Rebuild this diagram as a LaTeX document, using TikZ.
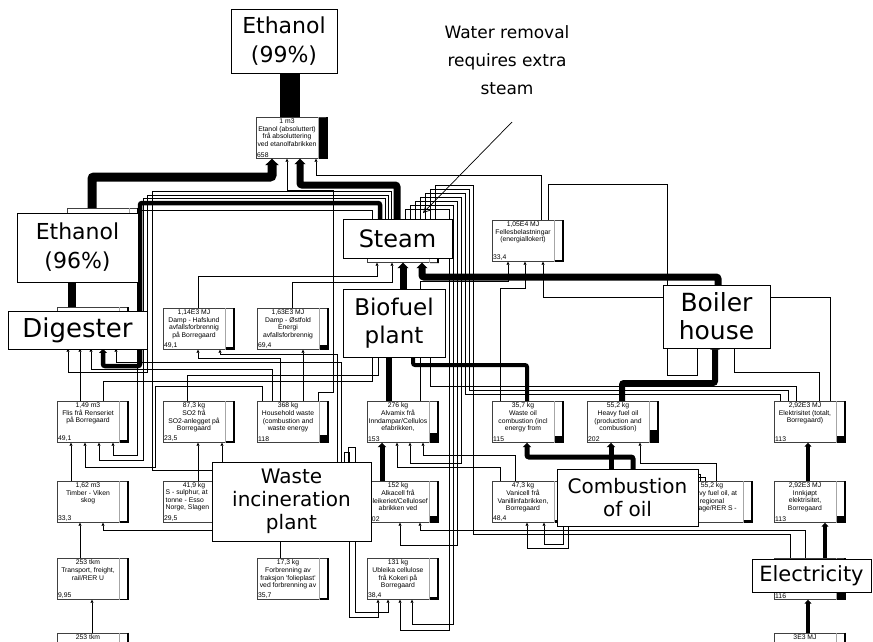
\documentclass[tikz,border=0pt]{standalone}
\usepackage{fontspec}
\setmainfont{DejaVu Sans}
\newfontfamily\boxfont{Liberation Sans}
\usetikzlibrary{calc,arrows.meta}
\newcommand\procbox[6]{%
  \node[pbox] (#1) at (#2,#3) {};
  \draw[black!35, line width=0.5pt] ($(#1.north east)+(-9,0)$) -- ($(#1.south east)+(-9,0)$);
  \fill ($(#1.south east)+(-9,0)$) rectangle ++(9,-#6);
  \draw[line width=1.4pt] ($(#1.north east)+(-0.7,0)$) -- ($(#1.south east)+(-0.7,0)$);
  \node[ptext] (#1-t) at ($(#1.north west)+(31,1.6)$) {#4};
  \node[pval] (#1-v) at (#1.south west) {#5};
}
\begin{document}
\begin{tikzpicture}[x=1pt,y=-1pt,
  pbox/.style={draw=black!75, line width=0.7pt, fill=white, anchor=north west,
    minimum width=71pt, minimum height=41pt, inner sep=0pt},
  ptext/.style={anchor=north, font=\boxfont\fontsize{6.8}{7.7}\selectfont, align=center, inner sep=0pt},
  pval/.style={anchor=south west, font=\boxfont\fontsize{6.8}{7.7}\selectfont, inner sep=1pt},
  big/.style={draw=black, line width=1pt, fill=white, align=center, inner sep=0pt},
  thk/.style={line width=#1, rounded corners=2pt, -{Triangle[length=2pt 0.5,width=2pt 1.25]}},
  tl/.style={line width=0.75pt, -{Triangle[length=3pt,width=3pt]}},
  tn/.style={line width=0.75pt},
]
\useasboundingbox (0,0) rectangle (873,641);
\fill[white] (0,0) rectangle (873,641);
\clip (0,0) rectangle (873,641);

% ---------- process boxes ----------
\procbox{A}{256}{117}{1 m3\\Etanol (absoluttert)\\frå absoluttering\\ved etanolfabrikken}{658}{41}
\procbox{E96}{67}{208}{}{}{0}
\procbox{St}{367}{221}{}{}{0}
\procbox{B}{492}{220}{1,05E4 MJ\\Fellesbelastningar\\(energiallokert)}{33,4}{2.1}
\procbox{Dg}{57}{307}{}{}{0}
\procbox{C}{163}{308}{1,14E3 MJ\\Damp - Hafslund\\avfallsforbrennig\\på Borregaard}{49,1}{3.1}
\procbox{D}{257}{308}{1,63E3 MJ\\Damp - Østfold\\Energi\\avfallsforbrennig}{69,4}{4.3}
\procbox{Bf}{367}{308}{}{}{0}
\procbox{Bh}{692}{303}{}{}{0}
\procbox{E}{57}{401}{1,49 m3\\Flis frå Renseriet\\på Borregaard}{49,1}{3.1}
\procbox{F}{163}{401}{87,3 kg\\SO2 frå\\SO2-anlegget på\\Borregaard}{23,5}{1.5}
\procbox{G}{257}{401}{368 kg\\Household waste\\(combustion and\\waste energy}{118}{7.4}
\procbox{H}{367}{401}{276 kg\\Alvamix frå\\Inndampar/Cellulos\\efabrikken,}{153}{9.5}
\procbox{I}{492}{401}{35,7 kg\\Waste oil\\combustion (incl\\energy from}{115}{7.2}
\procbox{J}{587}{401}{55,2 kg\\Heavy fuel oil\\(production and\\combustion)}{202}{12.6}
\procbox{K}{774}{401}{2,92E3 MJ\\Elektrisitet (totalt,\\Borregaard)}{113}{7}
\procbox{L}{57}{481}{1,62 m3\\Timber - Viken\\skog}{33,3}{2.1}
\procbox{M}{163}{481}{41,9 kg}{29,5}{1.8}
\node[anchor=north west, font=\boxfont\fontsize{6.8}{7.7}\selectfont, align=left, inner sep=0pt] (M-t2) at (165.5,489.3) {S - sulphur, at\\tonne - Esso\\Norge, Slagen};
\procbox{Wi}{280}{481}{}{}{0}
\procbox{N}{367}{481}{152 kg\\Alkacell frå\\Bleikeriet/Cellulosef\\abrikken ved}{102}{6.4}
\procbox{O}{492}{481}{47,3 kg\\Vanicell frå\\Vanillinfabrikken,\\Borregaard}{48,4}{3}
\procbox{Co}{587}{481}{}{}{0}
\procbox{P}{681}{481}{55,2 kg\\Heavy fuel oil, at\\regional\\storage/RER S -}{}{2.5}
\procbox{Q}{774}{481}{2,92E3 MJ\\Innkjøpt\\elektrisitet,\\Borregaard}{113}{7}
\procbox{R}{57}{558}{253 tkm\\Transport, freight,\\rail/RER U}{9,95}{0.6}
\procbox{S}{257}{558}{17,3 kg\\Forbrenning av\\fraksjon 'folieplast'\\ved forbrenning av}{35,7}{2.2}
\procbox{T}{367}{558}{131 kg\\Ubleika cellulose\\frå Kokeri på\\Borregaard}{38,4}{2.4}
\procbox{U}{774}{558}{}{116}{7.2}
\procbox{V}{57}{632.5}{253 tkm}{}{0}
\procbox{W}{774}{632.5}{3E3 MJ}{}{0}

% ---------- thick connectors ----------
\draw[line width=20pt] (A.north -| 290,0) -- (290,73);
\draw[thk=9pt] (E96.north -| 92,0) |- (272,177) -- (A.south -| 272,0);
\draw[thk=8pt] (Dg.north -| 72,0) -- (E96.south -| 72,0);
\draw[thk=7pt] (St.north -| 397,0) |- (300,185) -- (A.south -| 300,0);
\draw[thk=4.5pt] (St.north -| 380,0) |- (140,203) |- (103,366) -- (Dg.south -| 103,0);
\draw[thk=7pt] (Bf.north -| 403,0) -- (St.south -| 403,0);
\draw[thk=7pt] (Bh.north -| 718,0) |- (422,277) -- (St.south -| 422,0);
\draw[thk=6pt] (J.north -| 622,0) |- (715,383) -- (Bh.south -| 715,0);
\draw[thk=6pt] (H.north -| 389,0) -- (Bf.south -| 389,0);
\draw[thk=4pt] (I.north -| 527,0) |- (413,365) -- (Bf.south -| 413,0);
\draw[thk=4pt] (Q.north -| 808,0) -- (K.south -| 808,0);
\draw[thk=4pt] (U.north -| 825,0) -- (Q.south -| 825,0);
\draw[thk=4pt] (W.north -| 808,0) -- (U.south -| 808,0);
\draw[thk=5pt] (Co.north -| 611,0) -- (J.south -| 611,0);
\draw[thk=5pt] (Co.north -| 633,0) |- (527,457) -- (I.south -| 527,0);
\draw[thk=5pt] (N.north -| 382,0) -- (H.south -| 382,0);

% ---------- thin connectors ----------
\draw[tl] (B.north -| 541,0) |- (316,175) -- (A.south -| 316,0);
\draw[tl] (G.north -| 318,0) |- (333,392) |- (287,190) -- (A.south -| 287,0);
\draw[tl] (E.north -| 80,0) -- (Dg.south -| 80,0);
\draw[tl] (G.north -| 272,0) |- (91,369) -- (Dg.south -| 91,0);
\draw[tl] (G.north -| 262,0) |- (155,386) |- (85,467) -- (E.south -| 85,0);
\draw[tl] (G.north -| 280,0) |- (198,358) -- (C.south -| 198,0);
\draw[tl] (G.north -| 303,0) -- (D.south -| 303,0);
\draw[tl] (C.north -| 198,0) |- (377,276) -- (St.south -| 377,0);
\draw[tl] (D.north -| 292,0) |- (392,282) -- (St.south -| 392,0);
\draw[tl] (Wi.north -| 341,0) |- (116,362) -- (Dg.south -| 116,0);
\draw[tl] (Wi.north -| 337,0) |- (220,354) -- (C.south -| 220,0);
\draw[tl] (St.north -| 372,0) |- (137,210) |- (113,455) -- (E.south -| 113,0);
\draw[tl] (St.north -| 385,0) |- (143,198) |- (99,460) -- (E.south -| 99,0);
\draw[tl] (St.north -| 388,0) |- (147,195) |- (68,372) -- (Dg.south -| 68,0);
\draw[tl] (St.north -| 391,0) |- (152,191) |- (222,470) -- (F.south -| 222,0);
\draw[tl] (F.north -| 187,0) |- (378,375) -- (Bf.south -| 378,0);
\draw[tl] (E.north -| 103,0) |- (372,381) -- (Bf.south -| 372,0);
\draw[tl] (M.north -| 198,0) -- (F.south -| 198,0);
\draw[tl] (L.north -| 71,0) -- (E.south -| 71,0);
\draw[tl] (R.north -| 80,0) -- (L.south -| 80,0);
\draw[tl] (V.north -| 92,0) -- (R.south -| 92,0);
\draw[tl] (S.north -| 280,0) |- (103,530) -- (L.south -| 103,0);
\draw[tl] (St.north -| 405,0) |- (449,209) |- (400,630) -- (T.south -| 400,0);
\draw[tl] (St.north -| 410,0) |- (453,205) |- (412,624) -- (T.south -| 412,0);
\draw[tl] (St.north -| 415,0) |- (457,201) |- (400,545) -- (N.south -| 400,0);
\draw[tl] (St.north -| 420,0) |- (461,197) |- (410,463) -- (H.south -| 410,0);
\draw[tn] (K.north -| 780,0) |- (465,394) |- (425,193) -- (St.north -| 425,0);
\draw[tn] (K.north -| 788,0) |- (469,390) |- (430,189) -- (St.north -| 430,0);
\draw[tn] (U.north -| 790,0) |- (473,534) |- (435,185) -- (St.north -| 435,0);
\draw[tl] (U.north -| 805,0) |- (420,530) -- (N.south -| 420,0);
\draw[tl] (K.north -| 830,0) |- (543,297) -- (B.south -| 543,0);
\draw[tl] (K.north -| 819,0) |- (734,372) -- (Bh.south -| 734,0);
\draw[tl] (B.north -| 548,0) |- (667,184) |- (697,375) -- (Bh.south -| 697,0);
\draw[tl] (H.north -| 420,0) |- (508,281) -- (B.south -| 508,0);
\draw[tl] (I.north -| 500,0) |- (525,288) -- (B.south -| 525,0);
\draw[tl] (K.north -| 796,0) |- (430,386) -- (Bf.south -| 430,0);
\draw[tl] (P.north -| 716,0) |- (640,463) -- (J.south -| 640,0);
\draw[tl] (P.north -| 700,0) |- (568,474) |- (527,548) -- (O.south -| 527,0);
\draw[tl] (P.north -| 705,0) |- (563,477) |- (544,544) -- (O.south -| 544,0);
\draw[tl] (O.north -| 500,0) |- (397,467) -- (H.south -| 397,0);
\draw[tl] (O.north -| 515,0) |- (423,455) -- (H.south -| 423,0);
\draw[tl] (Wi.north -| 344,0) |- (349,452) |- (378,617) -- (T.south -| 378,0);
\draw[tl] (Wi.north -| 348,0) |- (355,447) |- (388,612) -- (T.south -| 388,0);

% ---------- big labels ----------
\node[big, minimum width=106pt, minimum height=64pt, font=\fontsize{22}{29}\selectfont] (L99) at (284,41) {Ethanol\\(99\%)};
\node[big, minimum width=121pt, minimum height=69pt, font=\fontsize{22}{29}\selectfont] (L96) at (77.5,247.5) {Ethanol\\(96\%)};
\node[big, minimum width=109pt, minimum height=39pt, font=\fontsize{24}{29}\selectfont] (Lst) at (397.5,238.5) {Steam};
\node[big, minimum width=139pt, minimum height=38pt, font=\fontsize{26}{29}\selectfont] (Ldg) at (77.5,330) {Digester};
\node[big, minimum width=102pt, minimum height=68pt, font=\fontsize{23}{28}\selectfont] (Lbf) at (394,323) {Biofuel\\plant};
\node[big, minimum width=107pt, minimum height=63pt, font=\fontsize{25}{28}\selectfont] (Lbh) at (716.5,316.5) {Boiler\\house};
\node[big, minimum width=159pt, minimum height=79pt, font=\fontsize{20}{23}\selectfont] (Lwi) at (291.5,501.5) {Waste\\incineration\\plant};
\node[big, minimum width=141pt, minimum height=57pt, font=\fontsize{20}{22.5}\selectfont] (Lco) at (627.5,497.5) {Combustion\\of oil};
\node[big, minimum width=119pt, minimum height=33pt, font=\fontsize{21}{25}\selectfont] (Lel) at (811.5,575.5) {Electricity};

% ---------- annotation ----------
\node[font=\fontsize{17}{28}\selectfont, align=center, inner sep=0pt] (WR) at (507,60) {Water removal\\requires extra\\steam};
\coordinate (wrs) at (512,122);
\coordinate (wre) at (423,213);
\draw[line width=0.7pt, -{Straight Barb[length=7pt,width=7pt]}] (wrs) -- (wre);
\end{tikzpicture}
\end{document}
